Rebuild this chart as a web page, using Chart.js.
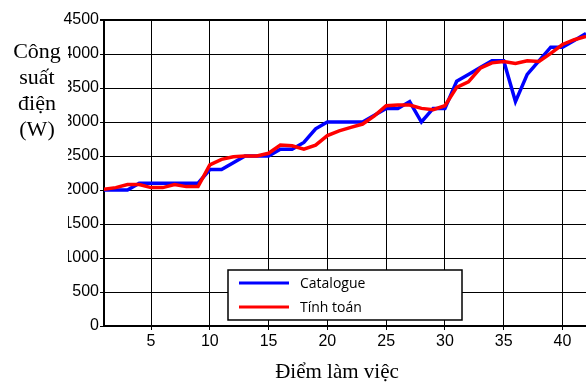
<!DOCTYPE html>
<html>
<head>
<meta charset="utf-8">
<script src="https://cdn.jsdelivr.net/npm/chart.js@4"></script>
<style>
  html, body { margin: 0; padding: 0; background: #fff; }
  #wrap { width: 586px; height: 382px; }
</style>
</head>
<body>
<div id="wrap"><canvas id="powerChart" width="586" height="382"></canvas></div>
<script>
// Working points (x axis)
const points = [1, 2, 3, 4, 5, 6, 7, 8, 9, 10, 11, 12, 13, 14, 15, 16, 17, 18, 19, 20, 21,
                22, 23, 24, 25, 26, 27, 28, 29, 30, 31, 32, 33, 34, 35, 36, 37, 38, 39, 40, 41, 42];

// Power from catalogue (W)
const catalogue = [2000, 2000, 2000, 2100, 2100, 2100, 2100, 2100, 2100, 2300, 2300, 2400, 2500, 2500,
                   2500, 2600, 2600, 2700, 2900, 3000, 3000, 3000, 3000, 3100, 3200, 3200, 3300, 3000,
                   3200, 3200, 3600, 3700, 3800, 3900, 3900, 3300, 3700, 3900, 4100, 4100, 4200, 4300];

// Calculated power (W)
const tinhToan = [2010, 2035, 2080, 2080, 2035, 2035, 2080, 2050, 2050, 2370, 2450, 2490, 2500, 2500,
                  2540, 2660, 2650, 2600, 2660, 2800, 2870, 2920, 2970, 3090, 3240, 3250, 3250, 3200,
                  3180, 3240, 3510, 3590, 3790, 3870, 3890, 3860, 3900, 3890, 4010, 4140, 4210, 4260];

const xTicks = [5, 10, 15, 20, 25, 30, 35, 40];
const yTitleLines = ['Công', 'suất', 'điện', '(W)'];
const xTitle = 'Điểm làm việc';

const toXY = arr => arr.map((v, i) => ({ x: points[i], y: v }));

// Draw axis titles and the boxed legend inside the plot
const decorations = {
    id: 'decorations',
    afterDraw(chart) {
        const ctx = chart.ctx;
        const area = chart.chartArea;
        ctx.save();

        // y title sits in a white panel that clips the first digit of the tick labels (as in the original)
        ctx.fillStyle = '#fff';
        ctx.fillRect(0, area.top + 24, 68, 226);
        ctx.font = '22px "Liberation Serif", "Times New Roman", serif';
        ctx.textAlign = 'center';
        ctx.textBaseline = 'middle';
        ctx.fillStyle = '#000';
        yTitleLines.forEach((line, i) => {
            ctx.fillText(line, 37, area.top + 32 + i * 26);
        });

        // x title
        ctx.font = '21px "Liberation Serif", "Times New Roman", serif';
        ctx.fillText(xTitle, 337, 372);

        // legend box
        const bx = area.left + 124, by = area.top + 250, bw = 234, bh = 50;
        ctx.fillStyle = '#fff';
        ctx.fillRect(bx, by, bw, bh);
        ctx.strokeStyle = '#000';
        ctx.lineWidth = 1.5;
        ctx.strokeRect(bx, by, bw, bh);
        ctx.font = '14px "Open Sans", "Liberation Sans", sans-serif';
        ctx.textAlign = 'left';
        const items = [chart.data.datasets[1], chart.data.datasets[0]];
        items.forEach((ds, i) => {
            const y = by + 13 + i * 24;
            ctx.strokeStyle = ds.borderColor;
            ctx.lineWidth = 3;
            ctx.beginPath();
            ctx.moveTo(bx + 11, y);
            ctx.lineTo(bx + 61, y);
            ctx.stroke();
            ctx.fillStyle = '#000';
            ctx.fillText(ds.label, bx + 72, y + 1);
        });
        ctx.restore();
    }
};

const ctx = document.getElementById('powerChart').getContext('2d');
new Chart(ctx, {
    type: 'line',
    data: {
        datasets: [{
            label: 'Tính toán',
            data: toXY(tinhToan),
            borderColor: '#ff0000',
            borderWidth: 3.5,
            pointRadius: 0,
            tension: 0,
            order: 0
        }, {
            label: 'Catalogue',
            data: toXY(catalogue),
            borderColor: '#0000ff',
            borderWidth: 3.5,
            pointRadius: 0,
            tension: 0,
            order: 1
        }]
    },
    options: {
        responsive: false,
        animation: false,
        layout: { padding: { top: 20, left: 0, right: 0, bottom: 0 } },
        plugins: {
            legend: { display: false },
            tooltip: { enabled: false }
        },
        scales: {
            x: {
                type: 'linear',
                min: 1,
                max: 42,
                afterBuildTicks: scale => { scale.ticks = xTicks.map(v => ({ value: v })); },
                afterFit: scale => { scale.height = 56; },
                grid: { color: '#000', lineWidth: 1, tickLength: 4 },
                border: { color: '#000', width: 2 },
                ticks: {
                    color: '#000',
                    padding: 2,
                    maxRotation: 0,
                    callback: v => String(v),
                    font: { family: 'Liberation Sans, Arial, sans-serif', size: 16 }
                }
            },
            y: {
                min: 0,
                max: 4500,
                afterFit: scale => { scale.width = 104; },
                grid: {
                    color: '#000',
                    lineWidth: c => (c.tick && c.tick.value === 4500 ? 2 : 1),
                    tickLength: 4
                },
                border: { color: '#000', width: 2 },
                ticks: {
                    stepSize: 500,
                    color: '#000',
                    padding: 1,
                    callback: v => String(v),
                    font: { family: 'Liberation Sans, Arial, sans-serif', size: 16 }
                }
            }
        }
    },
    plugins: [decorations]
});
</script>
</body>
</html>
